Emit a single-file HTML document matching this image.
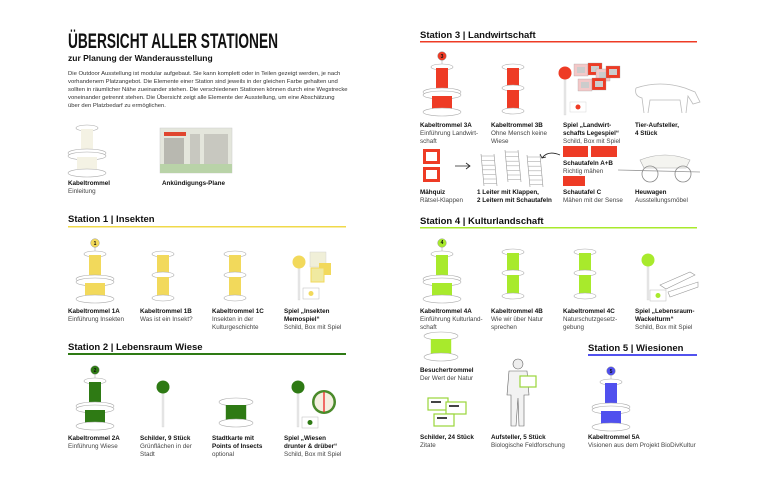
<!DOCTYPE html>
<html><head><meta charset="utf-8">
<style>
html,body{margin:0;padding:0;background:#fff;}
svg{display:block;}
text{font-family:"Liberation Sans",sans-serif;}
.t{font-size:6.3px;fill:#111;font-weight:bold;}
.s{font-size:6.3px;fill:#444;}
.h{font-size:9.5px;font-weight:bold;fill:#111;}
.p{font-size:5.9px;fill:#333;}
</style></head><body>
<svg id="c" width="770" height="480" viewBox="0 0 770 480" xmlns="http://www.w3.org/2000/svg">
<rect width="770" height="480" fill="#fff"/>
<!-- Title -->
<text x="68" y="48" textLength="210" lengthAdjust="spacingAndGlyphs" style="font-size:21px;font-weight:bold" fill="#111">ÜBERSICHT ALLER STATIONEN</text>
<text x="68" y="61" style="font-size:8.5px;font-weight:bold" fill="#111">zur Planung der Wanderausstellung</text>
<text class="p" x="68" y="75">Die Outdoor Ausstellung ist modular aufgebaut. Sie kann komplett oder in Teilen gezeigt werden, je nach</text>
<text class="p" x="68" y="83">vorhandenem Platzangebot. Die Elemente einer Station sind jeweils in der gleichen Farbe gehalten und</text>
<text class="p" x="68" y="91">sollten in räumlicher Nähe zueinander stehen. Die verschiedenen Stationen können durch eine Wegstrecke</text>
<text class="p" x="68" y="99">voneinander getrennt stehen. Die Übersicht zeigt alle Elemente der Ausstellung, um eine Abschätzung</text>
<text class="p" x="68" y="107">über den Platzbedarf zu ermöglichen.</text>

<text class="t" x="68" y="185">Kabeltrommel</text><text class="s" x="68" y="193">Einleitung</text>
<rect x="160" y="128" width="72" height="45" fill="#e4e6dc" stroke="#ccc" stroke-width="0.5"/>
<rect x="164" y="132" width="22" height="4" fill="#e0462f"/>
<rect x="164" y="138" width="20" height="26" fill="#b8b8b0"/>
<rect x="190" y="134" width="10" height="30" fill="#c8c8c0"/>
<rect x="204" y="134" width="24" height="30" fill="#c8c8c0"/>
<rect x="160" y="164" width="72" height="9" fill="#b9d3a8"/>
<text class="t" x="162" y="185">Ankündigungs-Plane</text>

<!-- Station 1 -->
<text class="h" x="68" y="222">Station 1 | Insekten</text>
<rect x="68" y="226" width="278" height="1.5" fill="#f0d94a"/>
<text class="t" x="68" y="313">Kabeltrommel 1A</text><text class="s" x="68" y="321">Einführung Insekten</text>
<text class="t" x="140" y="313">Kabeltrommel 1B</text><text class="s" x="140" y="321">Was ist ein Insekt?</text>
<text class="t" x="212" y="313">Kabeltrommel 1C</text><text class="s" x="212" y="321">Insekten in der</text><text class="s" x="212" y="329">Kulturgeschichte</text>
<text class="t" x="284" y="313">Spiel „Insekten</text><text class="t" x="284" y="321">Memospiel“</text><text class="s" x="284" y="329">Schild, Box mit Spiel</text>

<!-- Station 2 -->
<text class="h" x="68" y="350">Station 2 | Lebensraum Wiese</text>
<rect x="68" y="353" width="278" height="2" fill="#2e7a14"/>
<text class="t" x="68" y="440">Kabeltrommel 2A</text><text class="s" x="68" y="448">Einführung Wiese</text>
<text class="t" x="140" y="440">Schilder, 9 Stück</text><text class="s" x="140" y="448">Grünflächen in der</text><text class="s" x="140" y="456">Stadt</text>
<text class="t" x="212" y="440">Stadtkarte mit</text><text class="t" x="212" y="448">Points of Insects</text><text class="s" x="212" y="456">optional</text>
<text class="t" x="284" y="440">Spiel „Wiesen</text><text class="t" x="284" y="448">drunter &amp; drüber“</text><text class="s" x="284" y="456">Schild, Box mit Spiel</text>

<!-- Station 3 -->
<text class="h" x="420" y="38">Station 3 | Landwirtschaft</text>
<rect x="420" y="41" width="277" height="1.5" fill="#ee3b25"/>
<text class="t" x="420" y="127">Kabeltrommel 3A</text><text class="s" x="420" y="135">Einführung Landwirt-</text><text class="s" x="420" y="143">schaft</text>
<text class="t" x="491" y="127">Kabeltrommel 3B</text><text class="s" x="491" y="135">Ohne Mensch keine</text><text class="s" x="491" y="143">Wiese</text>
<text class="t" x="563" y="127">Spiel „Landwirt-</text><text class="t" x="563" y="135">schafts Legespiel“</text><text class="s" x="563" y="143">Schild, Box mit Spiel</text>
<text class="t" x="635" y="127">Tier-Aufsteller,</text><text class="t" x="635" y="135">4 Stück</text>
<text class="t" x="563" y="165">Schautafeln A+B</text><text class="s" x="563" y="173">Richtig mähen</text>
<text class="t" x="420" y="194">Mähquiz</text><text class="s" x="420" y="202">Rätsel-Klappen</text>
<text class="t" x="477" y="194">1 Leiter mit Klappen,</text><text class="t" x="477" y="202">2 Leitern mit Schautafeln</text>
<text class="t" x="563" y="194">Schautafel C</text><text class="s" x="563" y="202">Mähen mit der Sense</text>
<text class="t" x="635" y="194">Heuwagen</text><text class="s" x="635" y="202">Ausstellungsmöbel</text>

<!-- Station 4 -->
<text class="h" x="420" y="224">Station 4 | Kulturlandschaft</text>
<rect x="420" y="227" width="277" height="1.5" fill="#a8ea2c"/>
<text class="t" x="420" y="313">Kabeltrommel 4A</text><text class="s" x="420" y="321">Einführung Kulturland-</text><text class="s" x="420" y="329">schaft</text>
<text class="t" x="491" y="313">Kabeltrommel 4B</text><text class="s" x="491" y="321">Wie wir über Natur</text><text class="s" x="491" y="329">sprechen</text>
<text class="t" x="563" y="313">Kabeltrommel 4C</text><text class="s" x="563" y="321">Naturschutzgesetz-</text><text class="s" x="563" y="329">gebung</text>
<text class="t" x="635" y="313">Spiel „Lebensraum-</text><text class="t" x="635" y="321">Wackelturm“</text><text class="s" x="635" y="329">Schild, Box mit Spiel</text>
<text class="t" x="420" y="372">Besuchertrommel</text><text class="s" x="420" y="380">Der Wert der Natur</text>
<text class="t" x="420" y="439">Schilder, 24 Stück</text><text class="s" x="420" y="447">Zitate</text>
<text class="t" x="491" y="439">Aufsteller, 5 Stück</text><text class="s" x="491" y="447">Biologische Feldforschung</text>

<!-- Station 5 -->
<text class="h" x="588" y="351">Station 5 | Wiesionen</text>
<rect x="588" y="354" width="109" height="2" fill="#5252ee"/>
<text class="t" x="588" y="439">Kabeltrommel 5A</text><text class="s" x="588" y="447">Visionen aus dem Projekt BioDivKultur</text>

<g id="shapes"></g>
<g style="font-size:5px;font-weight:bold" fill="#111" text-anchor="middle">
<text x="95" y="245">1</text><text x="95" y="372">2</text><text x="442" y="58">3</text><text x="442" y="244">4</text><text x="611" y="373">5</text>
</g>
</svg>
<script>
var g=document.getElementById('shapes'),NS='http://www.w3.org/2000/svg';
function el(n,a){var e=document.createElementNS(NS,n);for(var k in a)e.setAttribute(k,a[k]);g.appendChild(e);return e;}
var ST='#aaa';
function fl(cx,cy,rx,ry){el('ellipse',{cx:cx,cy:cy,rx:rx,ry:ry,fill:'#fff',stroke:ST,'stroke-width':0.6});}
function drumA(cx,y,c,badge){
 if(badge){el('rect',{x:cx-0.7,y:y-8,width:1.4,height:8,fill:'#ddd'});el('circle',{cx:cx,cy:y-11,r:4.3,fill:c,stroke:'#888','stroke-width':0.4});}
 fl(cx,y,11,3);
 el('rect',{x:cx-6,y:y+1,width:12,height:24,fill:c});
 fl(cx,y+25,19,4);fl(cx,y+28,19,4);
 el('rect',{x:cx-10,y:y+29,width:20,height:15,fill:c});
 fl(cx,y+45,19,4);
}
function drumB(cx,y,c){
 fl(cx,y,11,3);
 el('rect',{x:cx-6,y:y+1,width:12,height:20,fill:c});
 fl(cx,y+21,11,3);
 el('rect',{x:cx-6,y:y+23,width:12,height:20,fill:c});
 fl(cx,y+44,11,3);
}
function drumLow(cx,y,c,w){fl(cx,y,w,4);el('rect',{x:cx-w*0.6,y:y+3,width:w*1.2,height:17,fill:c});fl(cx,y+21,w,4);}
function sign(x,y,c,h){el('rect',{x:x-1,y:y,width:2,height:h,fill:'#e8e8e8',stroke:'#ccc','stroke-width':0.3});el('circle',{cx:x,cy:y,r:6.5,fill:c});}
function box(x,y,c){el('rect',{x:x,y:y,width:16,height:11,fill:'#fff',stroke:'#bbb','stroke-width':0.5});el('circle',{cx:x+8,cy:y+5.5,r:2.5,fill:c});}
var Y='#f2d95b',G='#2e7a14',R='#ee3b25',L='#a8ea2c',B='#5050ee';
drumA(87,128,'#f4f2e4',false);
drumA(95,254,Y,true);drumB(163,254,Y);drumB(235,254,Y);
sign(299,262,Y,38);box(303,288,Y);
el('rect',{x:310,y:252,width:16,height:15,fill:'#f0efd8',stroke:'#ccc','stroke-width':0.4});
el('rect',{x:319,y:263,width:12,height:12,fill:Y});el('rect',{x:311,y:268,width:13,height:14,fill:'#f0e9a0',stroke:Y});
drumA(95,381,G,true);
sign(163,387,G,40);
drumLow(236,402,G,17);
sign(298,387,G,40);box(302,417,G);
el('circle',{cx:324,cy:402,r:12,fill:'#4a8a2a'});el('circle',{cx:324,cy:402,r:9.5,fill:'#f4efe0'});el('rect',{x:323.3,y:392,width:1.4,height:20,fill:'#e33'});
drumA(442,67,R,true);drumB(513,67,R);
sign(565,73,R,42);el('rect',{x:570,y:102,width:16,height:10,fill:'#fff',stroke:'#ccc','stroke-width':0.4});el('circle',{cx:578,cy:107,r:2.5,fill:R});
[[574,64],[588,63],[596,69],[606,66],[578,79],[592,78]].forEach(function(p,i){el('rect',{x:p[0],y:p[1],width:14,height:12,fill:i%2?R:'#f3c8c8',stroke:'#999','stroke-width':0.3});el('rect',{x:p[0]+3,y:p[1]+3,width:8,height:6,fill:'#ccc'});});
el('path',{d:'M636 88 Q660 80 685 88 L695 92 L700 102 L693 104 L688 96 L686 113 M682 113 L680 100 L650 100 L648 113 M644 113 L642 98 Q634 96 636 88',fill:'none',stroke:'#bbb','stroke-width':0.8});
el('rect',{x:423,y:149,width:17,height:15,fill:R});el('rect',{x:426,y:152,width:11,height:9,fill:'#fff'});
el('rect',{x:423,y:167,width:17,height:15,fill:R});el('rect',{x:426,y:170,width:11,height:9,fill:'#fff'});
el('path',{d:'M455 166 L470 166 M466 163 L470 166 L466 169',fill:'none',stroke:'#222','stroke-width':0.8});
[[481,154],[505,150],[527,155]].forEach(function(p){for(var k=0;k<2;k++)el('line',{x1:p[0]+k*13,y1:p[1],x2:p[0]+k*13+3,y2:p[1]+32,stroke:'#999','stroke-width':0.6});for(var j=0;j<7;j++)el('line',{x1:p[0]+j*0.4,y1:p[1]+j*4.6+2,x2:p[0]+13+j*0.4,y2:p[1]+j*4.6+2,stroke:'#aaa','stroke-width':0.6});});
el('path',{d:'M560 155 Q548 150 542 158 M540 154 L542 158 L546 157',fill:'none',stroke:'#222','stroke-width':0.8});
el('rect',{x:563,y:146,width:25,height:11,fill:R});el('rect',{x:591,y:146,width:26,height:11,fill:R});
el('rect',{x:563,y:176,width:22,height:10,fill:R});
el('path',{d:'M640 160 Q665 150 690 160 L686 168 L644 168 Z',fill:'#f4f4f0',stroke:'#aaa','stroke-width':0.6});
el('line',{x1:618,y1:170,x2:700,y2:172,stroke:'#999','stroke-width':0.8});
el('circle',{cx:650,cy:174,r:8,fill:'none',stroke:'#888','stroke-width':0.8});el('circle',{cx:683,cy:174,r:8,fill:'none',stroke:'#888','stroke-width':0.8});
drumA(442,254,L,true);drumB(513,252,L);drumB(585,252,L);
sign(648,260,L,40);box(650,290,L);
el('path',{d:'M660 285 L690 272 L695 275 L666 289 Z M668 292 L698 282 L698 287 L670 297 Z',fill:'#fff',stroke:'#999','stroke-width':0.6});
drumLow(441,336,L,17);
[[428,398],[446,402],[434,414]].forEach(function(p){el('rect',{x:p[0],y:p[1],width:20,height:12,fill:'#fff',stroke:'#9ad63a','stroke-width':1.2});el('rect',{x:p[0]+3,y:p[1]+3,width:10,height:2,fill:'#444'});});
el('circle',{cx:518,cy:364,r:5,fill:'#eee',stroke:'#666','stroke-width':0.6});
el('path',{d:'M509 371 L527 371 L529 395 L524 395 L524 426 L519 426 L518 398 L516 426 L511 426 L511 395 L507 395 Z',fill:'#f2f2f2',stroke:'#666','stroke-width':0.6});
el('rect',{x:520,y:376,width:16,height:11,fill:'#fff',stroke:'#9ad63a','stroke-width':1.2});
drumA(611,382,B,true);
</script>
</body></html>
